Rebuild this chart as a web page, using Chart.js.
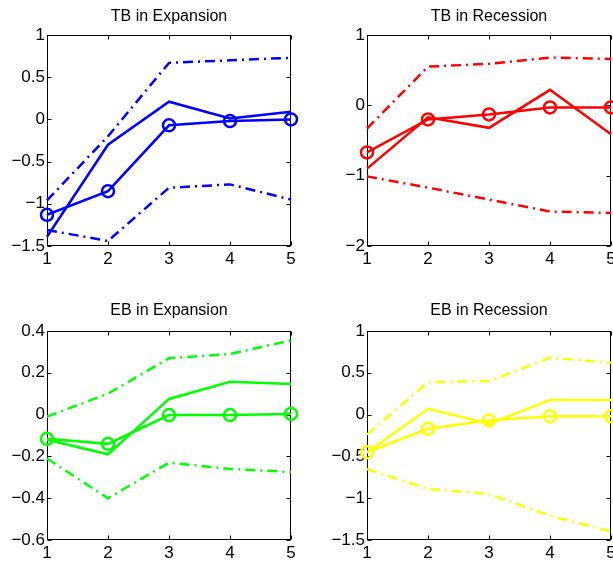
<!DOCTYPE html>
<html>
<head>
<meta charset="utf-8">
<script src="https://cdn.jsdelivr.net/npm/chart.js@4"></script>
<style>
  html, body { margin: 0; padding: 0; background: #fff; }
  body { width: 613px; height: 565px; overflow: hidden; position: relative; }
  canvas { position: absolute; }
</style>
</head>
<body>
<canvas id="tb-exp" width="303" height="280" style="left:0;top:0"></canvas>
<canvas id="tb-rec" width="330" height="280" style="left:300px;top:0"></canvas>
<canvas id="eb-exp" width="303" height="280" style="left:0;top:285px"></canvas>
<canvas id="eb-rec" width="330" height="280" style="left:300px;top:285px"></canvas>
<script>
// horizons on the x axis
const horizons = [1, 2, 3, 4, 5];

// y tick values per panel
const tbExpTicks = [-1.5, -1, -0.5, 0, 0.5, 1];
const tbRecTicks = [-2, -1, 0, 1];
const ebExpTicks = [-0.6, -0.4, -0.2, 0, 0.2, 0.4];
const ebRecTicks = [-1.5, -1, -0.5, 0, 0.5, 1];

// TB in Expansion
const tbExpLine   = [-1.39, -0.30, 0.21, 0.01, 0.09];
const tbExpCircle = [-1.13, -0.85, -0.07, -0.02, 0.00];
const tbExpUpper  = [-0.96, -0.20, 0.67, 0.70, 0.73];
const tbExpLower  = [-1.31, -1.44, -0.81, -0.77, -0.95];

// TB in Recession
const tbRecLine   = [-0.90, -0.17, -0.32, 0.22, -0.41];
const tbRecCircle = [-0.67, -0.20, -0.13, -0.03, -0.03];
const tbRecUpper  = [-0.33, 0.55, 0.59, 0.68, 0.66];
const tbRecLower  = [-1.01, -1.17, -1.34, -1.51, -1.53];

// EB in Expansion
const ebExpLine   = [-0.12, -0.19, 0.075, 0.157, 0.146];
const ebExpCircle = [-0.116, -0.14, -0.002, -0.002, 0.003];
const ebExpUpper  = [-0.01, 0.10, 0.27, 0.29, 0.355];
const ebExpLower  = [-0.21, -0.40, -0.23, -0.26, -0.275];

// EB in Recession
const ebRecLine   = [-0.45, 0.07, -0.11, 0.175, 0.175];
const ebRecCircle = [-0.45, -0.17, -0.07, -0.02, -0.02];
const ebRecUpper  = [-0.24, 0.39, 0.40, 0.68, 0.62];
const ebRecLower  = [-0.65, -0.89, -0.95, -1.21, -1.40];

const FONT = '"Liberation Sans", Arial, sans-serif';

// box around the axes, inward ticks, and the title centred over the plot
const frame = {
    id: 'frame',
    beforeDatasetsDraw(chart, args, opts) {
        const { ctx, chartArea: a, scales } = chart;
        const L = Math.round(a.left) + 0.5, R = Math.round(a.right) - 0.5;
        const T = Math.round(a.top) + 0.5, B = Math.round(a.bottom) - 0.5;
        ctx.save();
        ctx.strokeStyle = '#000';
        ctx.lineWidth = 1;
        ctx.strokeRect(L, T, R - L, B - T);
        ctx.beginPath();
        scales.y.ticks.forEach(t => {
            const y = Math.round(scales.y.getPixelForValue(t.value)) + 0.5;
            ctx.moveTo(L, y); ctx.lineTo(L + 4, y);
            ctx.moveTo(R, y); ctx.lineTo(R - 4, y);
        });
        scales.x.ticks.forEach(t => {
            const x = Math.round(scales.x.getPixelForValue(t.value)) + 0.5;
            ctx.moveTo(x, B); ctx.lineTo(x, B - 4);
            ctx.moveTo(x, T); ctx.lineTo(x, T + 4);
        });
        ctx.stroke();
        ctx.restore();
    },
    afterDraw(chart, args, opts) {
        const { ctx, chartArea: a } = chart;
        ctx.save();
        ctx.fillStyle = '#000';
        ctx.font = '16px ' + FONT;
        ctx.textAlign = 'center';
        ctx.textBaseline = 'middle';
        ctx.fillText(opts.title, (a.left + a.right) / 2, a.top - opts.offset);
        ctx.restore();
    }
};

function pairs(values) {
    return values.map((v, i) => ({ x: horizons[i], y: v }));
}

function makePanel(id, title, color, yTicks, line, circle, upper, lower, box) {
    const band = {
        borderColor: color, borderWidth: 2.5, borderDash: [10, 5, 2, 5],
        pointRadius: 0, tension: 0, fill: false, clip: false
    };
    new Chart(document.getElementById(id), {
        type: 'line',
        data: {
            datasets: [
                Object.assign({ data: pairs(upper) }, band),
                Object.assign({ data: pairs(lower) }, band),
                {
                    data: pairs(line), borderColor: color, borderWidth: 2.5,
                    pointRadius: 0, tension: 0, fill: false, clip: false
                },
                {
                    data: pairs(circle), borderColor: color, borderWidth: 2.5,
                    pointRadius: 6, pointBorderWidth: 2.5, pointBorderColor: color,
                    pointBackgroundColor: 'rgba(0,0,0,0)', tension: 0, fill: false, clip: false
                }
            ]
        },
        options: {
            responsive: false,
            animation: false,
            events: [],
            layout: { padding: { top: box.top, left: 0, right: box.right, bottom: box.bottom } },
            plugins: {
                legend: { display: false },
                tooltip: { enabled: false },
                title: { display: false },
                frame: { title: title, offset: box.titleOffset }
            },
            scales: {
                x: {
                    type: 'linear',
                    min: horizons[0],
                    max: horizons[horizons.length - 1],
                    grid: { display: false, drawTicks: false },
                    border: { display: false },
                    afterBuildTicks: s => { s.ticks = horizons.map(v => ({ value: v })); },
                    afterFit: s => { s.height = box.xHeight; s.paddingLeft = 0; s.paddingRight = 0; },
                    ticks: {
                        color: '#000', padding: 3, autoSkip: false, maxRotation: 0,
                        font: { family: FONT, size: 17 }
                    }
                },
                y: {
                    min: yTicks[0],
                    max: yTicks[yTicks.length - 1],
                    grid: { display: false, drawTicks: false },
                    border: { display: false },
                    afterBuildTicks: s => { s.ticks = yTicks.map(v => ({ value: v })); },
                    afterFit: s => { s.width = box.yWidth; s.paddingTop = 0; s.paddingBottom = 0; },
                    ticks: {
                        color: '#000', padding: 2, autoSkip: false,
                        font: { family: FONT, size: 17 },
                        callback: v => String(v).replace('-', '\u2212')
                    }
                }
            }
        },
        plugins: [frame]
    });
}

makePanel('tb-exp', 'TB in Expansion', '#0000ff', tbExpTicks,
    tbExpLine, tbExpCircle, tbExpUpper, tbExpLower,
    { top: 35, right: 12, bottom: 4, xHeight: 30, yWidth: 47, titleOffset: 18 });
makePanel('tb-rec', 'TB in Recession', '#ff0000', tbRecTicks,
    tbRecLine, tbRecCircle, tbRecUpper, tbRecLower,
    { top: 35, right: 19, bottom: 4, xHeight: 30, yWidth: 67, titleOffset: 18 });
makePanel('eb-exp', 'EB in Expansion', '#00ff00', ebExpTicks,
    ebExpLine, ebExpCircle, ebExpUpper, ebExpLower,
    { top: 46, right: 12, bottom: 5, xHeight: 20, yWidth: 47, titleOffset: 20 });
makePanel('eb-rec', 'EB in Recession', '#ffff00', ebRecTicks,
    ebRecLine, ebRecCircle, ebRecUpper, ebRecLower,
    { top: 46, right: 19, bottom: 5, xHeight: 20, yWidth: 67, titleOffset: 20 });
</script>
</body>
</html>
